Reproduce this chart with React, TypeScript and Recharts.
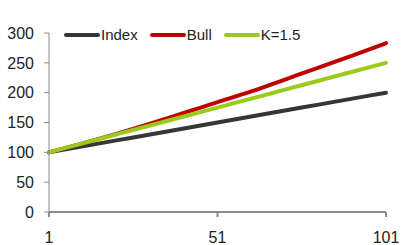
import { LineChart, Line, XAxis, YAxis, Legend } from 'recharts'

const periods = [1, 11, 21, 31, 41, 51, 61, 71, 81, 91, 101]
const indexValues = [100, 110, 120, 130, 140, 150, 160, 170, 180, 190, 200]
const bullValues = [100, 115, 131, 148, 166, 184, 202, 222, 242, 262, 283]
const kValues = [100, 115, 130, 145, 160, 175, 190, 205, 220, 235, 250]
const xTicks = [1, 51, 101]
const yTicks = [0, 50, 100, 150, 200, 250, 300]

const series = [
  { key: 'index', name: 'Index', color: '#363636' },
  { key: 'bull', name: 'Bull', color: '#c00000' },
  { key: 'k', name: 'K=1.5', color: '#9acb1a' },
]

const data = periods.map((p, i) => ({
  period: p,
  index: indexValues[i],
  bull: bullValues[i],
  k: kValues[i],
}))

const font = '"Liberation Sans", Arial, Helvetica, sans-serif'

const ChartLegend = () => (
  <div style={{ display: 'flex', alignItems: 'center', fontFamily: font, fontSize: 15, color: '#222' }}>
    {series.map((s) => (
      <span key={s.key} style={{ display: 'flex', alignItems: 'center', marginRight: 12 }}>
        <svg width={36} height={6} style={{ marginRight: 1 }}>
          <line x1={2} y1={3} x2={34} y2={3} stroke={s.color} strokeWidth={4} strokeLinecap="round" />
        </svg>
        {s.name}
      </span>
    ))}
  </div>
)

export default function App() {
  return (
    <div style={{ position: 'absolute', left: 0, top: 0, background: '#fff' }}>
      <LineChart width={401} height={245} data={data}
        margin={{ top: 16, right: 15, left: 0, bottom: 0 }}>
        <XAxis dataKey="period" type="number" domain={[1, 101]} ticks={xTicks}
          height={33} tickSize={5} tickMargin={15}
          stroke="#8a8a8a" strokeWidth={2}
          tick={{ fill: '#222', fontSize: 16, fontFamily: font }} />
        <YAxis domain={[0, 300]} ticks={yTicks} width={49} tickSize={5} tickMargin={10}
          stroke="#8a8a8a"
          tick={{ fill: '#222', fontSize: 16, fontFamily: font }} />
        <Legend verticalAlign="top" align="left" content={<ChartLegend />}
          wrapperStyle={{ top: 26, left: 64, width: 'auto' }} />
        {series.map((s) => (
          <Line key={s.key} dataKey={s.key} name={s.name} type="monotone"
            stroke={s.color} strokeWidth={4} strokeLinecap="round"
            dot={false} isAnimationActive={false} />
        ))}
      </LineChart>
    </div>
  )
}
